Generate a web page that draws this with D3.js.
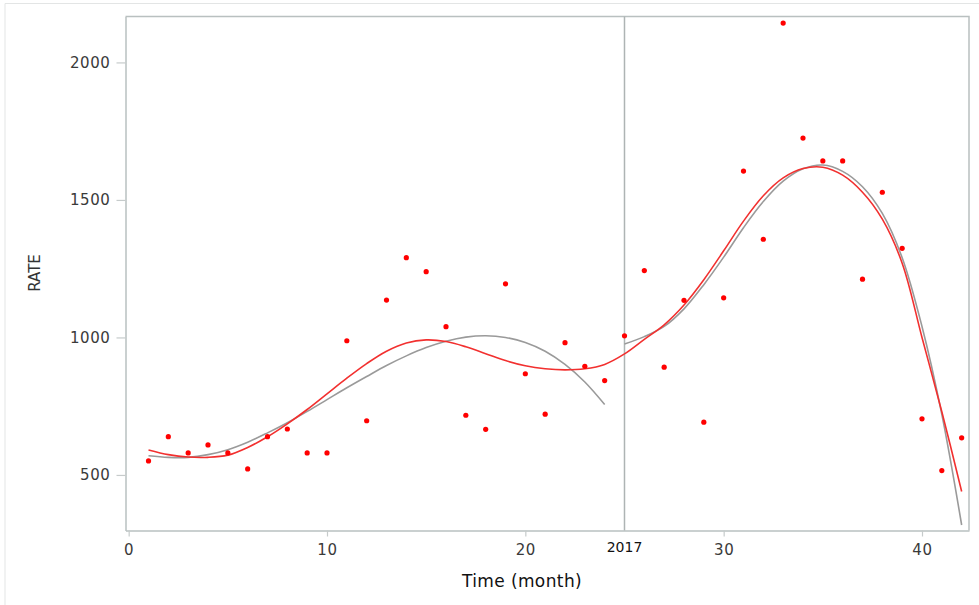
<!DOCTYPE html>
<html>
<head>
<meta charset="utf-8">
<script src="https://cdn.jsdelivr.net/npm/d3@7"></script>
<style>
body { margin: 0; background: #fff; }
text { font-family: "DejaVu Sans", sans-serif; }
</style>
</head>
<body>
<script>
//Month index of each observation
var months = [1,2,3,4,5,6,7,8,9,10,11,12,13,14,15,16,17,18,19,20,21,
              22,23,24,25,26,27,28,29,30,31,32,33,34,35,36,37,38,39,40,41,42];

//Observed rate per month
var rate = [551,639,580,609,580,522,639,667,580,580,988,697,1136,1290,1239,1039,717,666,1195,868,721,
            981,895,843,1006,1243,892,1135,692,1144,1605,1357,2143,1725,1642,1642,1212,1528,1324,704,516,635];

//Trend over the whole period (red), read at each month
var trendAll = [591,574,565,564,572,600,639,686,738,795,852,905,950,980,991,985,966,941,916,897,886,
                882,886,902,940,993,1046,1118,1210,1315,1423,1515,1580,1614,1619,1590,1528,1430,1270,1000,730,440];

//Trend before the break (grey), months 1-24
var monthsBefore = [1,2,3,4,5,6,7,8,9,10,11,12,13,14,15,16,17,18,19,20,21,22,23,24];
var trendBefore = [570,564,564,574,592,619,653,690,731,774,817,858,898,933,963,986,1001,1006,1000,982,950,902,838,756];

//Trend after the break (grey), months 25-42
var monthsAfter = [25,26,27,28,29,30,31,32,33,34,35,36,37,38,39,40,41,42];
var trendAfter = [976,1003,1040,1104,1192,1292,1399,1494,1568,1613,1627,1604,1548,1451,1290,1040,720,318];

//Break point and axis ticks
var breakMonth = 25;
var breakLabel = "2017";
var xTicks = [0,10,20,30,40];
var yTicks = [500,1000,1500,2000];

//Width and height
var w = 979;
var h = 605;
var plotLeft = 125.5, plotRight = 969, plotTop = 16.5, plotBottom = 530.5;

var svg = d3.select("body")
            .append("svg")
            .attr("width", w)
            .attr("height", h);

//Faint outer frame
svg.append("path")
   .attr("d", "M5,605V3.5H979")
   .attr("fill", "none")
   .attr("stroke", "#e3e5e5")
   .attr("stroke-width", 1);

//Scales
var x = d3.scaleLinear()
          .domain([-0.16, 42.37])
          .range([plotLeft, plotRight]);

var y = d3.scaleLinear()
          .domain([298, 2167])
          .range([plotBottom, plotTop]);

//Plot frame (top and right sides)
svg.append("path")
   .attr("d", "M" + plotLeft + "," + plotTop + "H" + plotRight + "V" + plotBottom)
   .attr("fill", "none")
   .attr("stroke", "#b9c0c0")
   .attr("stroke-width", 1.5);

//X axis
var xAxis = d3.axisBottom(x)
              .tickValues(xTicks)
              .tickSizeInner(6)
              .tickSizeOuter(0)
              .tickPadding(8)
              .tickFormat(d3.format("d"));

var gx = svg.append("g")
            .attr("transform", "translate(0," + plotBottom + ")")
            .call(xAxis);

//Y axis
var yAxis = d3.axisLeft(y)
              .tickValues(yTicks)
              .tickSizeInner(9)
              .tickSizeOuter(0)
              .tickPadding(6)
              .tickFormat(d3.format("d"));

var gy = svg.append("g")
            .attr("transform", "translate(" + plotLeft + ",0)")
            .call(yAxis);

[gx, gy].forEach(function(g) {
    g.select(".domain")
     .attr("stroke", "#b9c0c0")
     .attr("stroke-width", 1.5);
    g.selectAll(".tick line")
     .attr("stroke", "#c6cbcb")
     .attr("stroke-width", 1.2);
    g.selectAll(".tick text")
     .attr("fill", "#3a3a3a")
     .style("font-size", "15px")
     .style("letter-spacing", "0.6px");
});

//Break line
svg.append("line")
   .attr("x1", x(breakMonth))
   .attr("x2", x(breakMonth))
   .attr("y1", plotTop)
   .attr("y2", plotBottom)
   .attr("stroke", "#aeb4b4")
   .attr("stroke-width", 1.5);

svg.append("text")
   .attr("x", x(breakMonth))
   .attr("y", 552)
   .attr("text-anchor", "middle")
   .attr("fill", "#111")
   .style("font-size", "14px")
   .text(breakLabel);

//Axis titles
svg.append("text")
   .attr("x", 522)
   .attr("y", 587)
   .attr("text-anchor", "middle")
   .attr("fill", "#111")
   .style("font-size", "17px")
   .style("letter-spacing", "0.4px")
   .text("Time (month)");

svg.append("text")
   .attr("transform", "translate(40,273) rotate(-90)")
   .attr("text-anchor", "middle")
   .attr("fill", "#333")
   .style("font-size", "15px")
   .text("RATE");

//Line generator
var line = d3.line()
             .x(function(d) { return x(d[0]); })
             .y(function(d) { return y(d[1]); })
             .curve(d3.curveCatmullRom);

//Grey trends, one each side of the break
svg.append("path")
   .datum(d3.zip(monthsBefore, trendBefore))
   .attr("d", line)
   .attr("fill", "none")
   .attr("stroke", "#9a9a9a")
   .attr("stroke-width", 1.6);

svg.append("path")
   .datum(d3.zip(monthsAfter, trendAfter))
   .attr("d", line)
   .attr("fill", "none")
   .attr("stroke", "#9a9a9a")
   .attr("stroke-width", 1.6);

//Red trend over the whole period
svg.append("path")
   .datum(d3.zip(months, trendAll))
   .attr("d", line)
   .attr("fill", "none")
   .attr("stroke", "#f2302f")
   .attr("stroke-width", 1.6);

//Observed points
svg.selectAll("circle")
   .data(d3.zip(months, rate))
   .enter()
   .append("circle")
   .attr("cx", function(d) { return x(d[0]); })
   .attr("cy", function(d) { return y(d[1]); })
   .attr("r", 2.6)
   .attr("fill", "#ff0000");
</script>
</body>
</html>
